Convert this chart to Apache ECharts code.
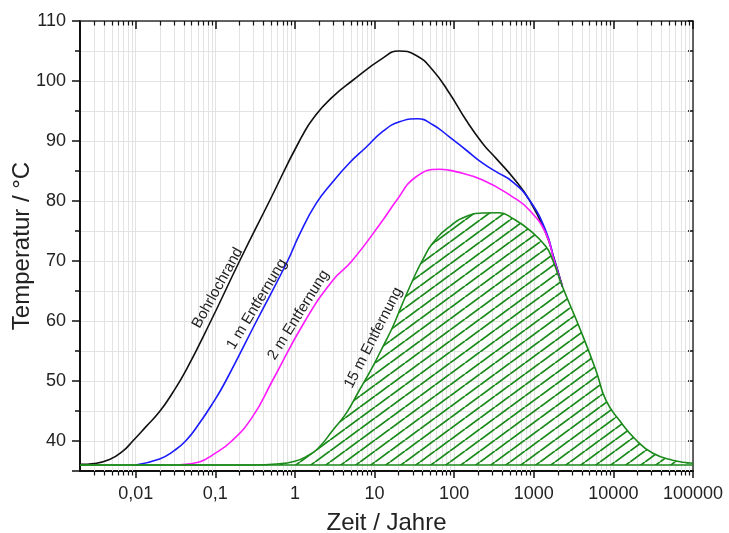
<!DOCTYPE html>
<html>
<head>
<meta charset="utf-8">
<script src="https://cdn.jsdelivr.net/npm/echarts@6/dist/echarts.min.js"></script>
<style>
html,body{margin:0;padding:0;background:#fff;}
#chart{width:729px;height:533px;}
</style>
</head>
<body>
<div id="chart"></div>
<script>
// ---- data ----
var xMin = 0.002, xMax = 100000;
var yMin = 35, yMax = 110;
var xTickValues = [0.01, 0.1, 1, 10, 100, 1000, 10000, 100000];
var xTickLabels = ['0,01', '0,1', '1', '10', '100', '1000', '10000', '100000'];

var bohrlochrand = [[0.002,36.1],[0.003,36.25],[0.0047,36.9],[0.0069,38.3],[0.0092,40.0],[0.0135,42.4],[0.02,44.9],[0.029,48.0],[0.043,51.8],[0.088,60.0],[0.202,70.0],[0.48,80.0],[1.14,90.0],[1.85,94.4],[3.0,97.4],[5.2,100.0],[12.7,103.8],[20,105.0],[33,104.3],[54,101.8],[87,98.0],[141,93.5],[228,89.6],[336,87.1],[542,84.0],[878,80.2],[1420,74.6],[1800,70.4],[2296,65.7]];
var entf1m = [[0.01,36.0],[0.02,37.0],[0.029,38.2],[0.0424,40.0],[0.0635,43.0],[0.093,46.3],[0.1355,50.0],[0.33,60.0],[0.81,70.0],[1.14,74.4],[1.85,79.6],[3.0,83.2],[4.8,86.3],[7.9,89.0],[12.7,91.6],[20.6,93.2],[34.7,93.7],[54,92.7],[87,90.7],[141,88.5],[228,86.3],[336,84.9],[542,83.2],[878,80.2],[1420,75.0],[1800,70.3],[2296,65.7]];
var entf2m = [[0.036,36.05],[0.063,36.5],[0.093,37.7],[0.161,40.0],[0.296,44.1],[0.52,50.0],[1.34,60.0],[3.0,66.8],[5.2,70.0],[12.7,76.8],[18.7,80.0],[33,84.0],[66,85.3],[105,84.9],[228,83.5],[542,80.7],[878,78.5],[1420,74.6],[1800,70.1],[2296,65.7]];
var entf15m = [[0.002,36],[0.3,36],[0.64,36.2],[0.94,36.55],[1.39,37.4],[2.04,39.05],[2.99,41.8],[4.4,44.6],[6.47,48.5],[9.5,52.4],[12.7,55.7],[16.9,59.0],[22.6,63.0],[33.2,68.0],[40.3,70.2],[53.7,72.95],[87,75.7],[141,77.4],[228,78.0],[369,78.05],[542,77.1],[878,75.2],[1422,72.4],[1722,70.2],[2296,65.7],[3724,59.0],[6030,51.8],[8050,46.8],[11830,43.5],[19140,40.2],[30970,38.0],[55200,36.8],[100000,36.3]];
var baseTemp = 36;

var curveLabels = ['Bohrlochrand', '1 m Entfernung', '2 m Entfernung', '15 m Entfernung'];
var curveLabelX = [0.107, 0.334, 1.11, 9.69];
var curveLabelY = [65.5, 62.8, 61.0, 57.2];
var curveLabelAngle = [61, 59, 58, 63];

// minor decade positions (2..9 of each decade) for the log axis
var minorX = [];
for (var d = -3; d <= 4; d++) {
  for (var m = 2; m <= 9; m++) {
    var v = m * Math.pow(10, d);
    if (v > xMin * 1.0001 && v < xMax) minorX.push([v, yMin]);
  }
}

// hatch pattern
var hatch = document.createElement('canvas');
var HW = 15, HH = 11;
hatch.width = HW; hatch.height = HH;
var hc = hatch.getContext('2d');
hc.strokeStyle = '#1a8a1a';
hc.lineWidth = 1.8;
for (var n = 0; n <= 2; n++) {
  hc.beginPath();
  hc.moveTo(n * HW, 0);
  hc.lineTo(n * HW - HW, HH);
  hc.stroke();
}

var FONT = 'Liberation Sans, Arial, sans-serif';
var GRID = '#e3e3e3';
var chart = echarts.init(document.getElementById('chart'));

function xLabel(v) {
  for (var i = 0; i < xTickValues.length; i++) {
    if (Math.abs(Math.log10(v) - Math.log10(xTickValues[i])) < 1e-6) return xTickLabels[i];
  }
  return '';
}

var option = {
  animation: false,
  backgroundColor: '#fff',
  grid: {left: 80, top: 21, right: 36, bottom: 62, containLabel: false, outerBoundsMode: 'none'},
  xAxis: [{
    type: 'log', logBase: 10, min: xMin, max: xMax, position: 'bottom',
    name: 'Zeit / Jahre', nameLocation: 'middle', nameGap: 40, nameMoveOverlap: false,
    nameTextStyle: {fontFamily: FONT, fontSize: 24, color: '#222'},
    axisLine: {show: true, onZero: false, lineStyle: {color: '#111', width: 2}},
    axisTick: {show: true, inside: false, length: 7, lineStyle: {color: '#111', width: 1.5}},
    axisLabel: {show: true, margin: 14, fontFamily: FONT, fontSize: 18, color: '#222', formatter: xLabel, showMinLabel: false, hideOverlap: false},
    splitLine: {show: true, lineStyle: {color: GRID, width: 1}}
  }, {
    type: 'log', logBase: 10, min: xMin, max: xMax, position: 'top',
    axisLine: {show: true, onZero: false, lineStyle: {color: '#333', width: 1.5}},
    axisTick: {show: true, inside: true, length: 8, lineStyle: {color: '#111', width: 1.5}},
    axisLabel: {show: false},
    splitLine: {show: false}
  }],
  yAxis: [{
    type: 'value', min: yMin, max: yMax, splitNumber: 7, position: 'left',
    name: 'Temperatur / °C', nameLocation: 'middle', nameGap: 46, nameMoveOverlap: false,
    nameTextStyle: {fontFamily: FONT, fontSize: 24, color: '#222'},
    axisLine: {show: true, onZero: false, lineStyle: {color: '#111', width: 2}},
    axisTick: {show: true, inside: false, length: 8, lineStyle: {color: '#111', width: 1.5}},
    minorTick: {show: true, splitNumber: 2, length: 5, lineStyle: {color: '#111', width: 1.5}},
    axisLabel: {show: true, margin: 14, fontFamily: FONT, fontSize: 18, color: '#222', showMinLabel: false},
    splitLine: {show: true, lineStyle: {color: GRID, width: 1}},
    minorSplitLine: {show: true, lineStyle: {color: GRID, width: 1}}
  }, {
    type: 'value', min: yMin, max: yMax, splitNumber: 7, position: 'right',
    axisLine: {show: true, onZero: false, lineStyle: {color: '#333', width: 1.5}},
    axisTick: {show: true, inside: true, length: 5, lineStyle: {color: '#111', width: 1.5}},
    minorTick: {show: true, splitNumber: 2, length: 5, lineStyle: {color: '#111', width: 1.5}},
    axisLabel: {show: false},
    splitLine: {show: false}
  }],
  series: [{
    type: 'custom', name: 'minor', xAxisIndex: 0, yAxisIndex: 0, z: 1, silent: true, clip: false,
    data: minorX,
    renderItem: function (params, api) {
      var v = api.value(0);
      var b = api.coord([v, yMin]);
      var t = api.coord([v, yMax]);
      var x = Math.round(b[0]) + 0.5;
      return {type: 'group', children: [
        {type: 'line', shape: {x1: x, y1: t[1], x2: x, y2: b[1]}, style: {stroke: GRID, lineWidth: 1}},
        {type: 'line', shape: {x1: x, y1: b[1], x2: x, y2: b[1] + 4.5}, style: {stroke: '#111', lineWidth: 1.2}},
        {type: 'line', shape: {x1: x, y1: t[1], x2: x, y2: t[1] + 4.5}, style: {stroke: '#111', lineWidth: 1.2}}
      ]};
    }
  }, {
    type: 'line', name: 'Bohrlochrand', data: bohrlochrand, showSymbol: false, smooth: 0.5, z: 3,
    lineStyle: {color: '#111', width: 1.6}
  }, {
    type: 'line', name: '1 m Entfernung', data: entf1m, showSymbol: false, smooth: 0.5, z: 3,
    lineStyle: {color: '#1a1aff', width: 1.6}
  }, {
    type: 'line', name: '2 m Entfernung', data: entf2m, showSymbol: false, smooth: 0.5, z: 3,
    lineStyle: {color: '#ff1aff', width: 1.6}
  }, {
    type: 'line', name: '15 m Entfernung', data: entf15m, showSymbol: false, smooth: 0.5, z: 4,
    lineStyle: {color: '#1a8a1a', width: 1.6},
    areaStyle: {origin: baseTemp, color: {image: hatch, repeat: 'repeat'}, opacity: 1},
    markLine: {silent: true, symbol: 'none', label: {show: false},
      lineStyle: {color: '#1a8a1a', width: 1.6, type: 'solid'},
      data: [{yAxis: baseTemp}]}
  }]
};
chart.setOption(option);

var g = [];
for (var i = 0; i < curveLabels.length; i++) {
  var p = chart.convertToPixel({xAxisIndex: 0, yAxisIndex: 0}, [curveLabelX[i], curveLabelY[i]]);
  g.push({
    type: 'text', x: p[0], y: p[1], rotation: curveLabelAngle[i] * Math.PI / 180, z: 100,
    style: {text: curveLabels[i], fontFamily: FONT, fontSize: 15, fill: '#222', align: 'center', verticalAlign: 'middle'}
  });
}
chart.setOption({graphic: g});
</script>
</body>
</html>
